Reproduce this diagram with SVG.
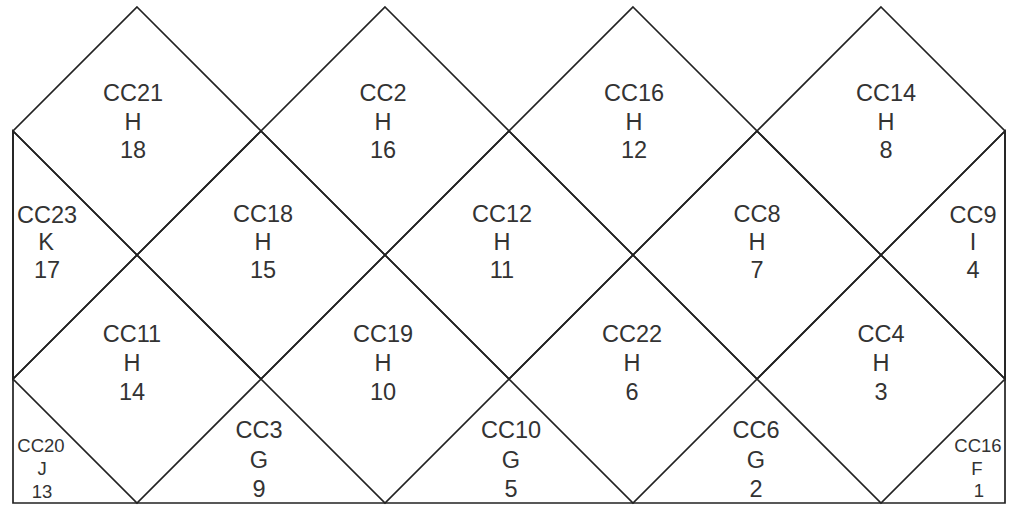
<svg xmlns="http://www.w3.org/2000/svg" width="1017" height="508" viewBox="0 0 1017 508">
<style>
.c{fill:none;stroke:#222;stroke-width:1.7;stroke-linejoin:miter}
.t{font-family:"Liberation Sans",Arial,sans-serif;font-size:23.5px;fill:#333;text-anchor:middle}
.s{font-family:"Liberation Sans",Arial,sans-serif;font-size:18.5px;fill:#333;text-anchor:middle}
</style>
<rect width="1017" height="508" fill="#fff"/>
<g id="connectors">
<polyline class="c" points="13,131 13,503 1005,503 1005,131"/>
</g>
<g id="CC21"><polygon class="c" points="137,7 261,131 137,255 13,131"/>
<text class="t" x="133" y="101">CC21</text><text class="t" x="133" y="130">H</text><text class="t" x="133" y="158">18</text></g>
<g id="CC2"><polygon class="c" points="385,7 509,131 385,255 261,131"/>
<text class="t" x="383" y="101">CC2</text><text class="t" x="383" y="130">H</text><text class="t" x="383" y="158">16</text></g>
<g id="CC16a"><polygon class="c" points="633,7 757,131 633,255 509,131"/>
<text class="t" x="634" y="101">CC16</text><text class="t" x="634" y="130">H</text><text class="t" x="634" y="158">12</text></g>
<g id="CC14"><polygon class="c" points="881,7 1005,131 881,255 757,131"/>
<text class="t" x="886" y="101">CC14</text><text class="t" x="886" y="130">H</text><text class="t" x="886" y="158">8</text></g>
<g id="CC23"><polygon class="c" points="13,131 137,255 13,379"/>
<text class="t" x="47" y="223">CC23</text><text class="t" x="46" y="250">K</text><text class="t" x="47" y="278">17</text></g>
<g id="CC18"><polygon class="c" points="261,131 385,255 261,379 137,255"/>
<text class="t" x="263" y="222">CC18</text><text class="t" x="263" y="250">H</text><text class="t" x="263" y="278">15</text></g>
<g id="CC12"><polygon class="c" points="509,131 633,255 509,379 385,255"/>
<text class="t" x="502" y="222">CC12</text><text class="t" x="502" y="250">H</text><text class="t" x="502" y="278">11</text></g>
<g id="CC8"><polygon class="c" points="757,131 881,255 757,379 633,255"/>
<text class="t" x="757" y="222">CC8</text><text class="t" x="757" y="250">H</text><text class="t" x="757" y="278">7</text></g>
<g id="CC9"><polygon class="c" points="1005,131 881,255 1005,379"/>
<text class="t" x="973" y="223">CC9</text><text class="t" x="973" y="250">I</text><text class="t" x="973" y="278">4</text></g>
<g id="CC11"><polygon class="c" points="137,255 261,379 137,503 13,379"/>
<text class="t" x="132" y="342">CC11</text><text class="t" x="132" y="371">H</text><text class="t" x="132" y="400">14</text></g>
<g id="CC19"><polygon class="c" points="385,255 509,379 385,503 261,379"/>
<text class="t" x="383" y="342">CC19</text><text class="t" x="383" y="371">H</text><text class="t" x="383" y="400">10</text></g>
<g id="CC22"><polygon class="c" points="633,255 757,379 633,503 509,379"/>
<text class="t" x="632" y="342">CC22</text><text class="t" x="632" y="371">H</text><text class="t" x="632" y="400">6</text></g>
<g id="CC4"><polygon class="c" points="881,255 1005,379 881,503 757,379"/>
<text class="t" x="881" y="342">CC4</text><text class="t" x="881" y="371">H</text><text class="t" x="881" y="400">3</text></g>
<g id="CC20"><text class="s" x="41" y="452">CC20</text><text class="s" x="42" y="475">J</text><text class="s" x="42" y="498">13</text></g>
<g id="CC3"><text class="t" x="259" y="438">CC3</text><text class="t" x="259" y="468">G</text><text class="t" x="259" y="497">9</text></g>
<g id="CC10"><text class="t" x="511" y="438">CC10</text><text class="t" x="511" y="468">G</text><text class="t" x="511" y="497">5</text></g>
<g id="CC6"><text class="t" x="756" y="438">CC6</text><text class="t" x="756" y="468">G</text><text class="t" x="756" y="497">2</text></g>
<g id="CC16b"><text class="s" x="978" y="452">CC16</text><text class="s" x="977" y="475">F</text><text class="s" x="979" y="497">1</text></g>
</svg>
